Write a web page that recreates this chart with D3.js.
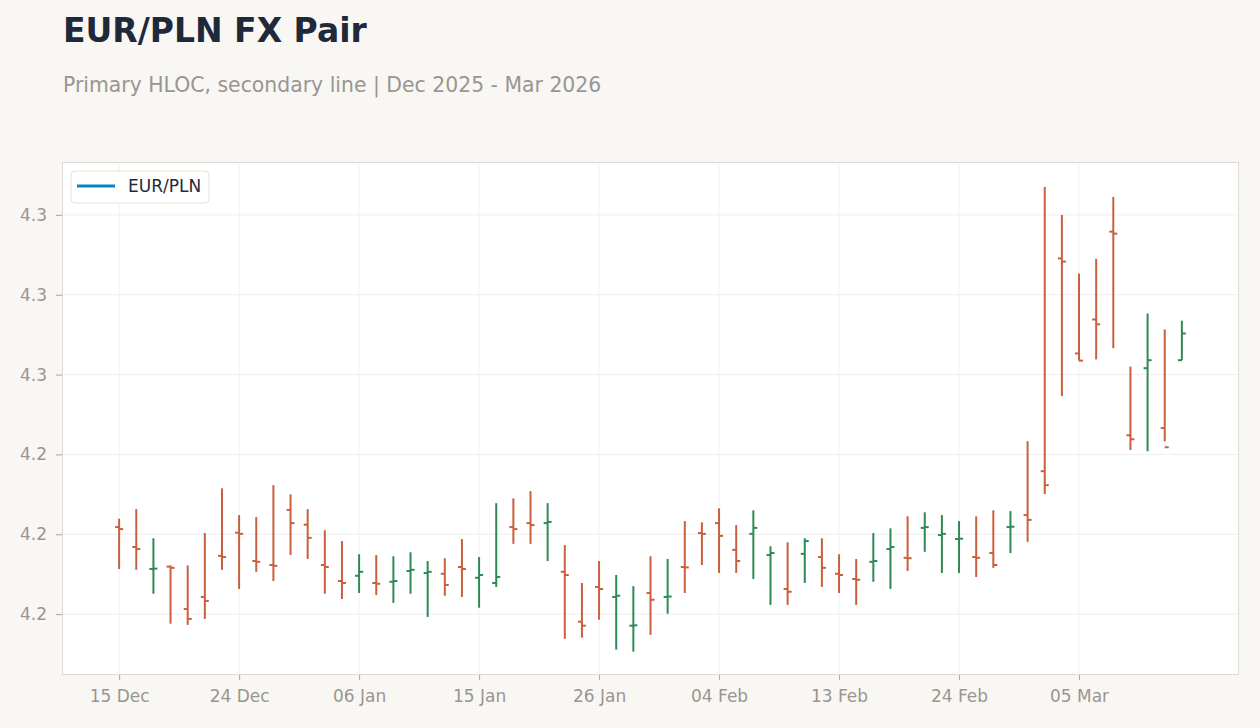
<html>
<head>
<meta charset="utf-8">
<style>
    body { margin: 0; background: #f8f7f4; font-family: "DejaVu Sans", sans-serif; }
    svg text { font-family: "DejaVu Sans", sans-serif; }
</style>
</head>
<body>
<svg id="chart" width="1260" height="728"></svg>
<script src="https://cdn.jsdelivr.net/npm/d3@7"></script>
<script>
// trading days, Dec 2025 - Mar 2026
const dates = [
    "2025-12-15","2025-12-16","2025-12-17","2025-12-18","2025-12-19","2025-12-22","2025-12-23","2025-12-24",
    "2025-12-26","2025-12-29","2025-12-30","2025-12-31",
    "2026-01-02","2026-01-05","2026-01-06","2026-01-07","2026-01-08","2026-01-09","2026-01-12","2026-01-13",
    "2026-01-14","2026-01-15","2026-01-16","2026-01-19","2026-01-20","2026-01-21","2026-01-22","2026-01-23",
    "2026-01-26","2026-01-27","2026-01-28","2026-01-29","2026-01-30",
    "2026-02-02","2026-02-03","2026-02-04","2026-02-05","2026-02-06","2026-02-09","2026-02-10","2026-02-11",
    "2026-02-12","2026-02-13","2026-02-16","2026-02-17","2026-02-18","2026-02-19","2026-02-20","2026-02-23",
    "2026-02-24","2026-02-25","2026-02-26","2026-02-27",
    "2026-03-02","2026-03-03","2026-03-04","2026-03-05","2026-03-06","2026-03-09","2026-03-10","2026-03-11",
    "2026-03-12","2026-03-13"
]
const open = [4.2218,4.2168,4.2113,4.2119,4.2013,4.2043,4.2146,4.2204,4.2133,4.2123,4.2261,4.2224,4.2123,4.2083,
    4.2096,4.2078,4.2081,4.2108,4.2103,4.2101,4.2118,4.2091,4.2078,4.2218,4.2228,4.2228,4.2106,4.1981,4.2068,
    4.2043,4.1971,4.2053,4.2043,4.2118,4.2203,4.2228,4.2161,4.2201,4.2148,4.2063,4.2151,4.2143,4.2101,4.2088,
    4.2131,4.2163,4.2141,4.2216,4.2198,4.2188,4.2143,4.2153,4.2218,4.2248,4.2358,4.2891,4.2653,4.2738,4.2958,
    4.2448,4.2616,4.2466,4.2636]
const high = [4.2239,4.2263,4.2190,4.2122,4.2122,4.2203,4.2315,4.2248,4.2243,4.2323,4.2300,4.2263,4.2210,4.2183,
    4.2150,4.2148,4.2145,4.2155,4.2133,4.2140,4.2188,4.2143,4.2278,4.2290,4.2308,4.2278,4.2173,4.2078,4.2133,
    4.2098,4.2070,4.2145,4.2138,4.2233,4.2230,4.2265,4.2223,4.2260,4.2170,4.2180,4.2190,4.2190,4.2150,4.2138,
    4.2203,4.2215,4.2245,4.2255,4.2248,4.2233,4.2245,4.2260,4.2258,4.2433,4.3070,4.3000,4.2853,4.2890,4.3045,
    4.2620,4.2753,4.2713,4.2735]
const low = [4.2113,4.2111,4.2051,4.1976,4.1973,4.1988,4.2111,4.2063,4.2106,4.2083,4.2148,4.2138,4.2051,4.2038,
    4.2053,4.2048,4.2028,4.2051,4.1993,4.2046,4.2043,4.2016,4.2068,4.2176,4.2176,4.2133,4.1938,4.1941,4.1986,
    4.1911,4.1906,4.1948,4.2001,4.2053,4.2123,4.2103,4.2103,4.2088,4.2023,4.2023,4.2078,4.2068,4.2053,4.2023,
    4.2081,4.2063,4.2108,4.2156,4.2103,4.2103,4.2093,4.2116,4.2153,4.2181,4.2301,4.2546,4.2635,4.2638,4.2666,
    4.2411,4.2408,4.2433,4.2636]
const close = [4.2213,4.2163,4.2114,4.2116,4.1988,4.2033,4.2143,4.2201,4.2131,4.2121,4.2228,4.2191,4.2118,4.2078,
    4.2106,4.2076,4.2083,4.2111,4.2106,4.2073,4.2113,4.2098,4.2093,4.2213,4.2223,4.2231,4.2098,4.1971,4.2063,
    4.2046,4.1972,4.2036,4.2044,4.2117,4.2201,4.2196,4.2133,4.2216,4.2153,4.2056,4.2183,4.2116,4.2098,4.2086,
    4.2133,4.2168,4.2140,4.2218,4.2201,4.2189,4.2141,4.2123,4.2219,4.2236,4.2323,4.2883,4.2635,4.2726,4.2953,
    4.2438,4.2636,4.2418,4.2703]
const yTicks = [4.20, 4.22, 4.24, 4.26, 4.28, 4.30]
const yDomain = [4.18475, 4.31325]
const seriesName = "EUR/PLN"

const parse = d3.timeParse("%Y-%m-%d")
let bars = dates.map((d, i) => ({
    date: d, open: open[i], high: high[i], low: low[i], close: close[i]
}))

let margin = {left: 62, top: 162, right: 21, bottom: 53}
let W = 1260, H = 728
let svg = d3.select("#chart")

svg.append("text").attr("x", 63).attr("y", 42)
    .style("font-size", "33px").style("font-weight", "bold").style("fill", "#1e2939")
    .text("EUR/PLN FX Pair")
svg.append("text").attr("x", 63).attr("y", 92)
    .style("font-size", "20.4px").style("fill", "#9a9590")
    .text("Primary HLOC, secondary line | Dec 2025 - Mar 2026")

let x = d3.scalePoint().domain(dates).range([margin.left, W - margin.right]).padding(3.333)
let y = d3.scaleLinear().domain(yDomain).range([H - margin.bottom, margin.top])

// plot background
svg.append("rect")
    .attr("x", margin.left).attr("y", margin.top)
    .attr("width", W - margin.left - margin.right).attr("height", H - margin.top - margin.bottom)
    .style("fill", "#ffffff")

let xTickDates = dates.filter((d, i) => i % 7 == 0)

// grid
svg.append("g").selectAll("line").data(yTicks).enter().append("line")
    .attr("x1", margin.left).attr("x2", W - margin.right)
    .attr("y1", d => y(d)).attr("y2", d => y(d))
    .style("stroke", "#eeeeee")
svg.append("g").selectAll("line").data(xTickDates).enter().append("line")
    .attr("x1", d => x(d)).attr("x2", d => x(d))
    .attr("y1", margin.top).attr("y2", H - margin.bottom)
    .style("stroke", "#f1f1f1")

// border
svg.append("rect")
    .attr("x", margin.left + 0.5).attr("y", margin.top + 0.5)
    .attr("width", W - margin.left - margin.right - 1).attr("height", H - margin.top - margin.bottom - 1)
    .style("fill", "none").style("stroke", "#dedad3")

let fmtDate = d3.timeFormat("%d %b")
let xAxis = d3.axisBottom(x).tickValues(xTickDates).tickFormat(d => fmtDate(parse(d))).tickSize(5).tickPadding(10)
let gx = svg.append("g").attr("transform", `translate(0,${H - margin.bottom})`).call(xAxis)
gx.select(".domain").remove()
gx.selectAll("line").style("stroke", "#aaa6a0")
gx.selectAll("text").style("font-size", "17px").style("fill", "#9a9590")

let yAxis = d3.axisLeft(y).tickValues(yTicks).tickFormat(d3.format(".1f")).tickSize(6).tickPadding(9)
let gy = svg.append("g").attr("transform", `translate(${margin.left},0)`).call(yAxis)
gy.select(".domain").remove()
gy.selectAll("line").style("stroke", "#aaa6a0")
gy.selectAll("text").style("font-size", "17px").style("fill", "#9a9590")

// HLOC bars
let up = "#2e8a55", down = "#c9603d"
let colour = d => d.close >= d.open ? up : down
let g = svg.append("g")
let bar = g.selectAll("g").data(bars).enter().append("g")
bar.append("line")
    .attr("x1", d => x(d.date)).attr("x2", d => x(d.date))
    .attr("y1", d => y(d.high)).attr("y2", d => y(d.low))
    .style("stroke", colour).style("stroke-width", 2)
bar.append("line")
    .attr("x1", d => x(d.date) - 4).attr("x2", d => x(d.date))
    .attr("y1", d => y(d.open)).attr("y2", d => y(d.open))
    .style("stroke", colour).style("stroke-width", 2)
bar.append("line")
    .attr("x1", d => x(d.date)).attr("x2", d => x(d.date) + 4)
    .attr("y1", d => y(d.close)).attr("y2", d => y(d.close))
    .style("stroke", colour).style("stroke-width", 2)

// legend
let legend = svg.append("g").attr("transform", `translate(${margin.left + 9},${margin.top + 9})`)
legend.append("rect").attr("width", 138).attr("height", 32).attr("rx", 4)
    .style("fill", "#ffffff").style("stroke", "#e6e3dd")
legend.append("line").attr("x1", 6).attr("x2", 44).attr("y1", 15).attr("y2", 15)
    .style("stroke", "#0a84c6").style("stroke-width", 3)
legend.append("text").attr("x", 57).attr("y", 21)
    .style("font-size", "17px").style("fill", "#1e2939")
    .text(seriesName)
</script>
</body>
</html>
